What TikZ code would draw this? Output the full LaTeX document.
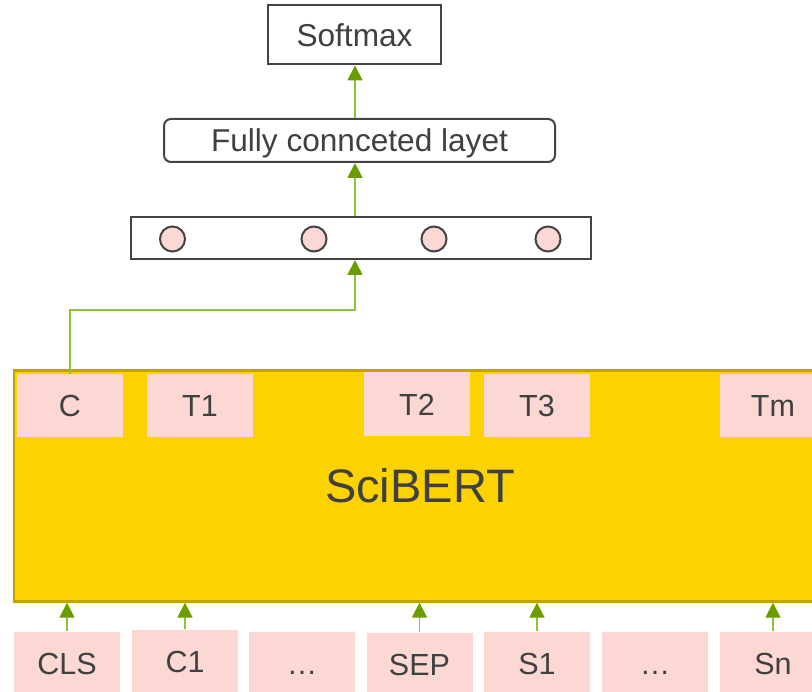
\documentclass[tikz,border=0pt]{standalone}
\usepackage{fontspec}
\setmainfont{Liberation Sans}
\usetikzlibrary{arrows.meta}
\definecolor{txt}{HTML}{404040}
\definecolor{edge}{HTML}{444444}
\definecolor{pinkf}{HTML}{FCD8D5}
\definecolor{gold}{HTML}{FCD200}
\definecolor{goldb}{HTML}{C4A200}
\definecolor{grn}{HTML}{8CC43E}
\definecolor{grnd}{HTML}{6A9E00}
\begin{document}
\begin{tikzpicture}[x=1pt,y=-1pt,
  big/.style={font=\fontsize{31.6pt}{36pt}\selectfont, text=txt, text height=22.6pt, text depth=0pt},
  graybox/.style={draw=edge, line width=2pt, fill=white, inner sep=0pt, big},
  dot/.style={circle, draw=edge, line width=2pt, fill=pinkf, minimum size=25pt, inner sep=0pt},
  tok/.style={fill=pinkf, minimum width=106pt, minimum height=63pt, inner sep=0pt, text=txt,
    font=\fontsize{30.5pt}{34pt}\selectfont, text height=21.8pt, text depth=0pt},
  sci/.style={fill=gold, draw=goldb, line width=2.4pt, inner sep=0pt, text=txt,
    font=\fontsize{47pt}{52pt}\selectfont, text height=33.6pt, text depth=0pt},
  arr/.style={draw=grn, line width=1.8pt, -{Triangle[width=15pt,length=15pt,fill=grnd,color=grnd]}}
]
\useasboundingbox (0,0) rectangle (812,692);
\clip (0,0) rectangle (812,692);

% top stack
\node[graybox, minimum width=173pt, minimum height=59pt] (soft) at (354.5,35) {Softmax};
\node[graybox, minimum width=391pt, minimum height=43pt, rounded corners=7pt] (fc) at (359.5,140.5) {Fully connceted layet};
\node[draw=edge, line width=2pt, fill=white, minimum width=460pt, minimum height=42pt, inner sep=0pt] (vec) at (361,238) {};
\node[dot] (d1) at (172.5,239) {};
\node[dot] (d2) at (314,239) {};
\node[dot] (d3) at (434,239) {};
\node[dot] (d4) at (548,239) {};

% SciBERT block
\node[sci, minimum width=812pt, minimum height=231pt] (bert) at (420,486) {SciBERT};

% output tokens
\node[tok] (C)  at (70,405.5) {C};
\node[tok] (T1) at (200,405.5) {T1};
\node[tok, minimum height=64pt] (T2) at (417,404.5) {T2};
\node[tok] (T3) at (537,405.5) {T3};
\node[tok] (Tm) at (773,405.5) {Tm};

% input tokens
\node[tok, minimum height=64pt] (CLS) at (67,663.5) {CLS};
\node[tok, minimum height=64pt] (C1)  at (185,661.5) {C1};
\node[tok, minimum height=64pt] (dA)  at (302,663.5) {…};
\node[tok, minimum height=64pt] (SEP) at (419.5,664.5) {SEP};
\node[tok, minimum height=64pt] (S1)  at (537,663.5) {S1};
\node[tok, minimum height=64pt] (dB)  at (655,663.5) {…};
\node[tok, minimum height=64pt] (Sn)  at (773,663.5) {Sn};

% connectors
\coordinate (bend) at (355,310);
\draw[arr] (C.north) |- (bend) -- (bend |- vec.south);
\draw[arr] (vec.north -| bend) -- (fc.south -| bend);
\draw[arr] (fc.north -| bend) -- (soft.south -| bend);

\foreach \t in {CLS,C1,SEP,S1,Sn}{
  \draw[arr] (\t.north) -- (\t.north |- bert.south);
}
\end{tikzpicture}
\end{document}
